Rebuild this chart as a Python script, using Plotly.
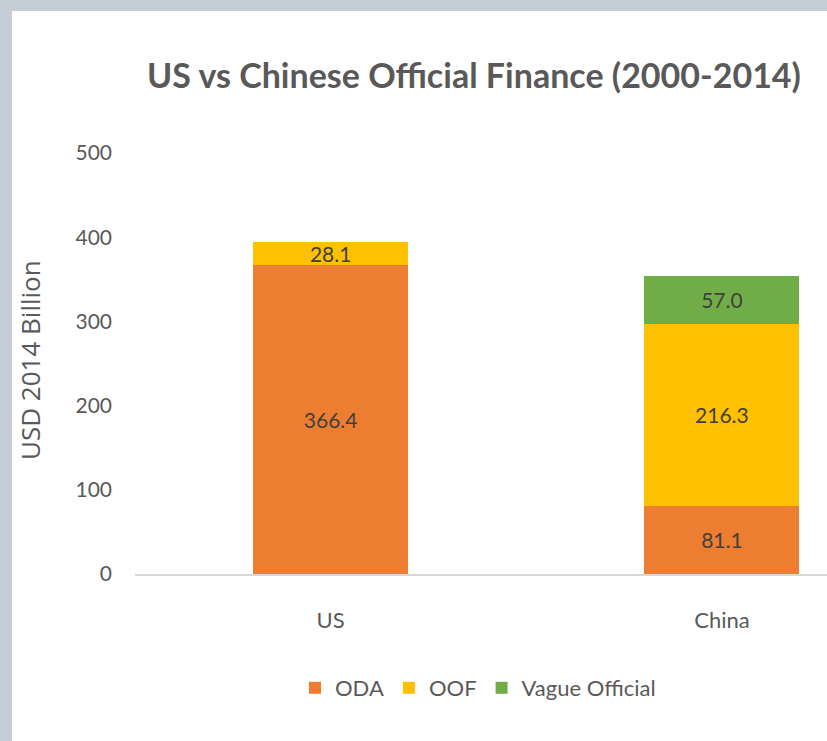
import plotly.graph_objects as go

categories = ["US", "China"]
oda = [366.4, 81.1]
oof = [28.1, 216.3]
vague = [None, 57.0]
series_names = ["ODA", "OOF", "Vague Official"]
y_ticks = [0, 100, 200, 300, 400, 500]

colors = ["#ED7D31", "#FFC000", "#70AD47"]
W, H = 827, 741
ML, MR, MT, MB = 135, 0, 153, 167
PW, PH = W - ML - MR, H - MT - MB

def px_x(px):
    return (px - ML) / PW

def px_y(py):
    return (H - MB - py) / PH

FONT = "Lato, 'Open Sans', sans-serif"
fig = go.Figure()
for name, vals, col in zip(series_names, [oda, oof, vague], colors):
    fig.add_trace(go.Bar(
        x=categories, y=vals, name=name, marker=dict(color=col, line=dict(width=0)),
        width=0.396, texttemplate="%{y:.1f}", textposition="inside",
        insidetextanchor="middle", constraintext="none",
        textfont=dict(color="#404040", size=21, family=FONT),
        hoverinfo="skip",
    ))

fig.update_layout(
    width=W, height=H, barmode="stack",
    margin=dict(l=ML, r=MR, t=MT, b=MB),
    paper_bgcolor="#c5cdd6", plot_bgcolor="white",
    font=dict(family=FONT, color="#595959", size=20),
    title=dict(text="<b>US vs Chinese Official Finance (2000-2014)</b>",
               x=474 / W, xref="container", xanchor="center",
               y=1 - 76 / H, yref="container", yanchor="middle",
               font=dict(size=34, color="#595959", family=FONT)),
    xaxis=dict(range=[-0.5, (W - 135.5) / 391 - 0.5],
               showline=True, linecolor="#d9d9d9", linewidth=1.5,
               showgrid=False, ticks="", ticklabelstandoff=26,
               tickfont=dict(size=22, color="#595959")),
    yaxis=dict(range=[0, 500], tickvals=y_ticks, showgrid=False, zeroline=False,
               showline=False, ticks="", ticklabelstandoff=22,
               tickfont=dict(size=21, color="#595959")),
    legend=dict(orientation="h", x=px_x(478), xanchor="center",
                y=px_y(688), yanchor="middle", traceorder="normal",
                font=dict(size=22, color="#595959"), itemwidth=30,
                bgcolor="rgba(0,0,0,0)"),
    shapes=[dict(type="rect", xref="paper", yref="paper", layer="below",
                 x0=px_x(12), x1=px_x(W + 5), y0=px_y(H + 5), y1=px_y(11),
                 fillcolor="white", line=dict(width=0))],
    annotations=[dict(text="USD 2014 Billion", xref="paper", yref="paper",
                      x=px_x(30), y=px_y(360), textangle=-90, showarrow=False,
                      xanchor="center", yanchor="middle",
                      font=dict(size=26, color="#595959", family="'Open Sans', sans-serif"))],
)
fig.write_html("out.html", config={"displayModeBar": False},
               post_script="document.body.style.margin='0';document.body.style.overflow='hidden';")
